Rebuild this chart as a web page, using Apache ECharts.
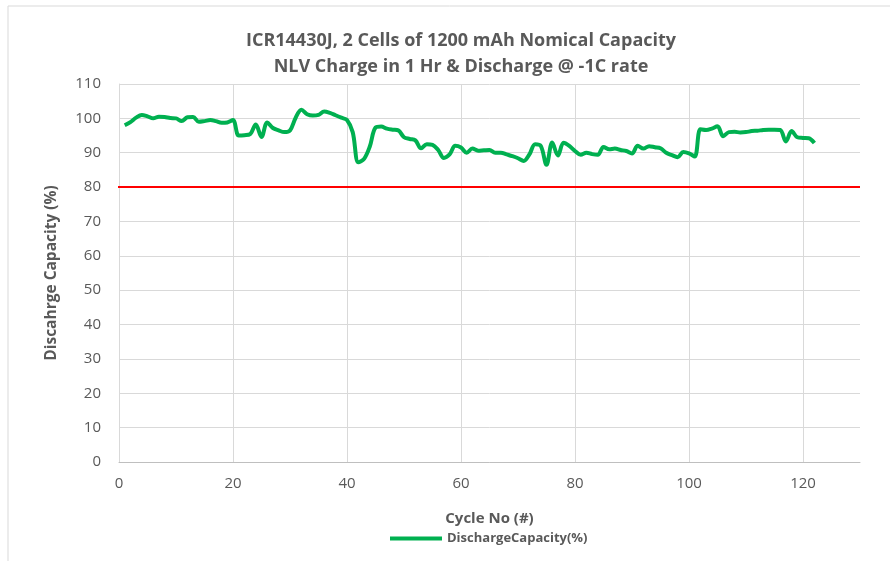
<!DOCTYPE html>
<html>
<head>
    <meta charset="utf-8">
    <title>ICR14430J Discharge Capacity</title>
    <script src="https://cdn.jsdelivr.net/npm/echarts@6/dist/echarts.min.js"></script>
    <style>
        html, body { margin: 0; padding: 0; background: #ffffff; }
        #chart { width: 890px; height: 561px; }
    </style>
</head>
<body>
<div id="chart"></div>
<script>
    // cycle numbers 1..122
    var cycles = [];
    for (var c = 1; c <= 122; c++) { cycles.push(c); }

    // discharge capacity (%), one per cycle
    var capacity = [
        98.0, 98.9, 100.2, 101.0, 100.6, 100.0, 100.5, 100.4, 100.1, 100.0,
        99.2, 100.3, 100.4, 99.0, 99.2, 99.5, 99.2, 98.7, 98.8, 99.5,
        95.0, 95.1, 95.4, 98.2, 94.6, 98.8, 97.2, 96.5, 96.0, 96.5,
        100.2, 102.5, 101.2, 100.8, 101.0, 102.0, 101.6, 100.9, 100.2, 99.5,
        96.0, 87.2, 88.2, 91.8, 97.3, 97.6, 97.0, 96.7, 96.5, 94.5,
        94.0, 93.6, 91.3, 92.5, 92.3, 90.8, 88.5, 89.5, 92.0, 91.5,
        90.0, 91.2, 90.6, 90.7, 90.8, 90.0, 90.0, 89.5, 89.0, 88.4,
        87.6, 89.5, 92.5, 92.0, 86.5, 93.0, 89.2, 92.9, 92.0, 90.5,
        89.4, 90.0, 89.6, 89.4, 91.7, 91.0, 91.2, 90.8, 90.5, 89.8,
        92.0, 91.2, 91.9, 91.6, 91.3, 90.0, 89.3, 88.7, 90.2, 89.8,
        88.9, 96.8, 96.6, 97.0, 97.7, 94.8, 96.0, 96.1, 95.9, 96.0,
        96.3, 96.4, 96.6, 96.7, 96.7, 96.6, 93.3, 96.3, 94.5, 94.3,
        94.2, 92.8
    ];

    // 80 % end-of-life limit, drawn from just left of the axis to the right edge
    var limitX = [-1.4, 130];
    var limitY = [80, 80];

    var titleLines = [
        'ICR14430J, 2 Cells of 1200 mAh Nomical Capacity',
        'NLV Charge in 1 Hr & Discharge @ -1C rate'
    ];

    var points = cycles.map(function (x, i) { return [x, capacity[i]]; });
    var limitPoints = limitX.map(function (x, i) { return [x, limitY[i]]; });

    var font = 'Open Sans';
    var chart = echarts.init(document.getElementById('chart'), null, { renderer: 'canvas' });

    var option = {
        animation: false,
        backgroundColor: '#ffffff',
        textStyle: { fontFamily: font },
        title: {
            text: titleLines.join('\n'),
            left: 456,
            textAlign: 'center',
            top: 23,
            textStyle: {
                fontFamily: font,
                fontSize: 18,
                fontWeight: 'bold',
                color: '#595959',
                lineHeight: 26
            }
        },
        graphic: [{
            type: 'rect',
            z: -1,
            shape: { x: 8, y: 6, width: 900, height: 600 },
            style: { fill: 'none', stroke: '#d9d9d9', lineWidth: 1 }
        }],
        legend: {
            data: ['DischargeCapacity(%)'],
            top: 527,
            left: 385,
            itemWidth: 52,
            itemHeight: 4,
            icon: 'rect',
            itemGap: 4,
            textStyle: {
                fontFamily: font,
                fontSize: 13,
                fontWeight: 'bold',
                color: '#595959'
            }
        },
        grid: {
            left: 119,
            right: 30,
            top: 84,
            bottom: 99
        },
        xAxis: {
            type: 'value',
            min: 0,
            max: 130,
            interval: 20,
            name: 'Cycle No (#)',
            nameLocation: 'middle',
            nameGap: 49,
            nameTextStyle: {
                fontFamily: font,
                fontSize: 15,
                fontWeight: 'bold',
                color: '#595959'
            },
            axisLine: { lineStyle: { color: '#bfbfbf', width: 1 } },
            axisTick: { show: false },
            axisLabel: {
                color: '#595959',
                fontSize: 15,
                margin: 14,
                showMaxLabel: false,
                formatter: function (v) { return v === 130 ? '' : v; }
            },
            splitLine: { show: true, showMaxLine: false, lineStyle: { color: '#d9d9d9', width: 1 } }
        },
        yAxis: {
            type: 'value',
            min: 0,
            max: 110,
            interval: 10,
            name: 'Discahrge Capacity (%)',
            nameLocation: 'middle',
            nameGap: 59,
            nameTextStyle: {
                fontFamily: font,
                fontSize: 15.5,
                fontWeight: 'bold',
                color: '#595959'
            },
            axisLine: { show: true, lineStyle: { color: '#d9d9d9', width: 1 } },
            axisTick: { show: false },
            axisLabel: {
                color: '#595959',
                fontSize: 15,
                margin: 18
            },
            splitLine: { show: true, lineStyle: { color: '#d9d9d9', width: 1 } }
        },
        series: [{
            name: '80% limit',
            type: 'line',
            data: limitPoints,
            clip: false,
            showSymbol: false,
            symbol: 'none',
            silent: true,
            color: '#ff0000',
            lineStyle: { color: '#ff0000', width: 2 },
            z: 2
        }, {
            name: 'DischargeCapacity(%)',
            type: 'line',
            data: points,
            smooth: 0.35,
            showSymbol: false,
            symbol: 'none',
            color: '#00b050',
            lineStyle: { color: '#00b050', width: 4 },
            z: 3
        }]
    };

    chart.setOption(option);
</script>
</body>
</html>
